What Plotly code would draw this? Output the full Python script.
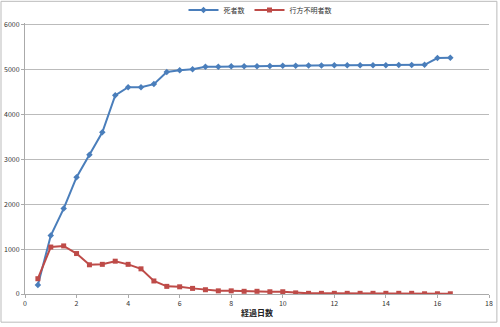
import plotly.graph_objects as go

days = [0.5, 1, 1.5, 2, 2.5, 3, 3.5, 4, 4.5, 5, 5.5, 6, 6.5, 7, 7.5, 8, 8.5,
        9, 9.5, 10, 10.5, 11, 11.5, 12, 12.5, 13, 13.5, 14, 14.5, 15, 15.5, 16, 16.5]
deaths = [200, 1300, 1900, 2600, 3100, 3600, 4420, 4600, 4600, 4670, 4940, 4980, 5000,
          5055, 5055, 5065, 5070, 5070, 5075, 5080, 5080, 5085, 5085, 5088, 5088, 5090,
          5090, 5092, 5095, 5095, 5100, 5250, 5255]
missing = [340, 1045, 1070, 900, 650, 660, 730, 660, 560, 290, 170, 160, 125, 95, 70, 70,
           60, 60, 50, 50, 25, 15, 15, 15, 15, 15, 15, 15, 15, 15, 5, 5, 5]
names = ["死者数", "行方不明者数"]
x_title = "経過日数"

font = "Noto Sans CJK JP"
fig = go.Figure()
fig.add_trace(go.Scatter(x=days, y=deaths, name=names[0], mode="lines+markers",
                         line=dict(color="#4A7EBB", width=2),
                         marker=dict(symbol="diamond", size=5, color="#4A7EBB")))
fig.add_trace(go.Scatter(x=days, y=missing, name=names[1], mode="lines+markers",
                         line=dict(color="#BE4B48", width=2),
                         marker=dict(symbol="square", size=5, color="#BE4B48")))

fig.update_layout(
    width=500, height=327,
    margin=dict(l=25, r=11, t=23, b=33, autoexpand=False),
    paper_bgcolor="white", plot_bgcolor="white",
    font=dict(family=font, size=7, color="#333333"),
    legend=dict(orientation="h", x=0.52, xanchor="center", xref="container",
                y=1 - 10 / 327, yanchor="middle", yref="container",
                bgcolor="rgba(0,0,0,0)",
                font=dict(size=7, color="#333333"), itemwidth=30, tracegroupgap=0),
    showlegend=True,
    xaxis=dict(range=[0, 18], tickvals=list(range(0, 19, 2)), showgrid=False,
               showline=True, linecolor="#AAAAAA", linewidth=1, automargin=False,
               ticks="outside", ticklen=3, tickcolor="#AAAAAA",
               tickfont=dict(size=7, color="#333333"), zeroline=False,
               title=dict(text="<b>" + x_title + "</b>", font=dict(size=8, color="#222222"),
                          standoff=2)),
    yaxis=dict(range=[0, 6030], tickvals=list(range(0, 6001, 1000)), showgrid=True,
               gridcolor="#BBBBBB", gridwidth=1, showline=True, linecolor="#AAAAAA",
               ticks="outside", ticklen=3, tickcolor="#AAAAAA", automargin=False,
               tickfont=dict(size=7, color="#333333"), zeroline=False),
    shapes=[dict(type="rect", xref="paper", yref="paper",
                 x0=-0.0517, x1=1.017, y0=-0.104, y1=1.08,
                 line=dict(color="#BBBBBB", width=1), fillcolor="rgba(0,0,0,0)", layer="below")],
)
fig.write_html("out.html")
